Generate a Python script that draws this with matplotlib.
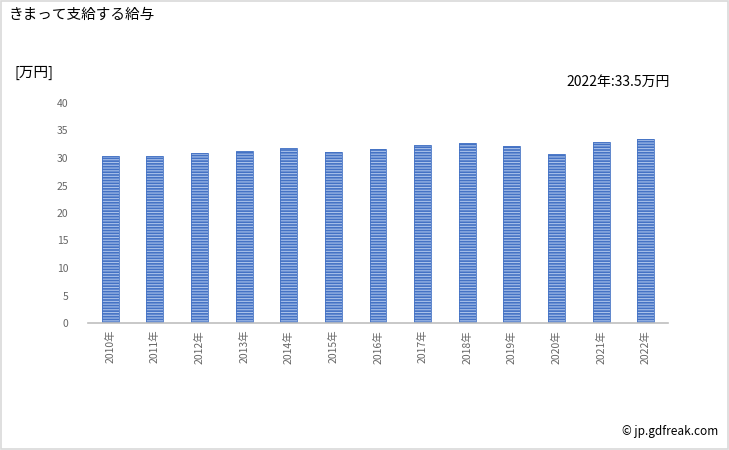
import matplotlib
matplotlib.use("Agg")
import matplotlib.pyplot as plt
from matplotlib.patches import Rectangle

plt.rcParams['font.family'] = ['Noto Sans CJK JP', 'DejaVu Sans']
plt.rcParams['hatch.linewidth'] = 0.8

# ── Data ───────────────────────────────────────────────
YEARS = [2010, 2011, 2012, 2013, 2014, 2015, 2016,
         2017, 2018, 2019, 2020, 2021, 2022]
VALUES = [30.4, 30.3, 30.9, 31.3, 31.8, 31.1, 31.6,
          32.4, 32.7, 32.2, 30.7, 32.9, 33.5]
YTICKS = [0, 5, 10, 15, 20, 25, 30, 35, 40]
TICK_LABELS = [f"{y}年" for y in YEARS]

BAR_COLOR = "#4472C4"
STRIPE_COLOR = "#A9C1EA"
TEXT_GRAY = "#666666"

fig = plt.figure(figsize=(7.29, 4.5), dpi=100)
ax = fig.add_axes([88 / 729, 1 - 323 / 450, 580 / 729, 220 / 450])

x = range(len(YEARS))
ax.bar(x, VALUES, width=0.38, color=BAR_COLOR, edgecolor=STRIPE_COLOR,
       linewidth=0, hatch="------")
ax.bar(x, VALUES, width=0.38, fill=False, edgecolor=BAR_COLOR, linewidth=0.6)

ax.set_xlim(-0.5, len(YEARS) - 0.5)
ax.set_ylim(0, 40)
ax.set_yticks(YTICKS)
ax.set_xticks(list(x))
ax.set_xticklabels(TICK_LABELS, rotation=90)
ax.tick_params(axis="y", length=0, labelsize=7.5, colors=TEXT_GRAY, pad=14)
ax.tick_params(axis="x", length=0, labelsize=7.5, colors=TEXT_GRAY, pad=5)

for side in ("top", "right", "left"):
    ax.spines[side].set_visible(False)
ax.spines["bottom"].set_color("#BFBFBF")
ax.spines["bottom"].set_linewidth(1.2)

fig.text(9 / 729, 1 - 15 / 450, "きまって支給する給与", fontsize=10.5,
         va="center", ha="left", color="black")
fig.text(15 / 729, 1 - 73 / 450, "[万円]", fontsize=10.5,
         va="center", ha="left", color="black")
fig.text(670 / 729, 1 - 82 / 450,
         f"{YEARS[-1]}年:{VALUES[-1]}万円", fontsize=10,
         va="center", ha="right", color="black")
fig.text(718 / 729, 1 - 432 / 450, "© jp.gdfreak.com", fontsize=8.5,
         va="center", ha="right", color="black")

# light frame around the whole figure
fig.patches.append(Rectangle((0.001, 0.002), 0.997, 0.996,
                             transform=fig.transFigure, fill=False,
                             edgecolor="#D9D9D9", linewidth=1.2))

fig.savefig("out.png", dpi=100)
